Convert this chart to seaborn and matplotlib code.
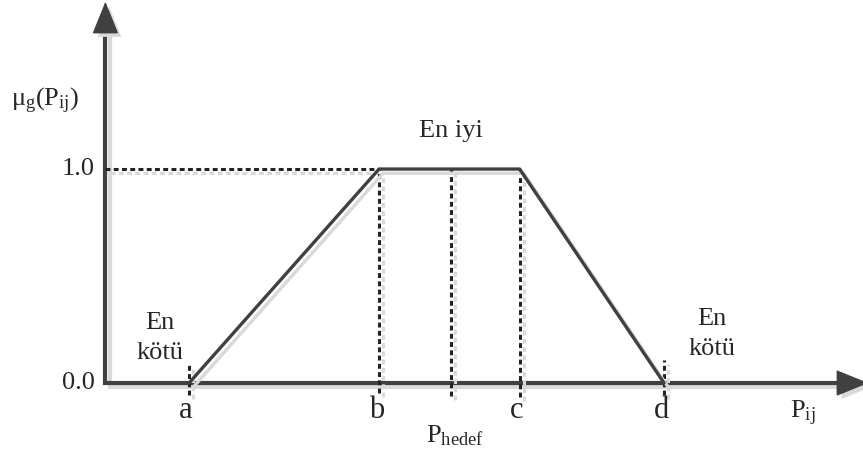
import matplotlib
matplotlib.use('Agg')
import matplotlib.pyplot as plt
import matplotlib.patheffects as pe
import seaborn as sns
import pandas as pd

# trapezoid membership function
pts = ['a', 'b', 'c', 'd']
x_pts = [1.0, 2.0, 2.74, 3.5]
mu_pts = [0.0, 1.0, 1.0, 0.0]
p_target = 2.38
y_ticks = [0.0, 1.0]
tick_text = ['0.0', '1.0']
x_origin = 0.56

df = pd.DataFrame({'P': x_pts, 'mu': mu_pts})

sns.set_theme(style='white')
plt.rcParams['font.family'] = ['Liberation Serif', 'DejaVu Serif']
plt.rcParams['mathtext.fontset'] = 'custom'
plt.rcParams['mathtext.rm'] = 'Liberation Serif'
plt.rcParams['mathtext.it'] = 'Liberation Serif:italic'

dark = '#404040'
shade = '#d9d9d9'
shadow = [pe.SimpleLineShadow(offset=(3, -3), shadow_color=shade, alpha=1), pe.Normal()]

fig = plt.figure(figsize=(8.63, 4.53), dpi=100)
ax = fig.add_axes([0, 0, 1, 1])
ax.set_xlim(0.00526, 4.547)
ax.set_ylim(-0.327, 1.79)
ax.axis('off')

# axis lines
ax.plot([x_origin, x_origin, 4.45], [1.70, 0, 0], color=dark, lw=3,
        solid_joinstyle='miter', path_effects=shadow, zorder=2)

# arrow heads
arr = dict(arrowstyle='-|>,head_length=2.1,head_width=0.85', lw=1, color=dark,
           mutation_scale=10, shrinkA=0, shrinkB=0,
           path_effects=[pe.SimplePatchShadow(offset=(3, -3), shadow_rgbFace=shade, alpha=1), pe.Normal()])
ax.annotate('', xy=(4.575, 0), xytext=(4.3, 0), arrowprops=arr, zorder=2, annotation_clip=False)
ax.annotate('', xy=(x_origin, 1.782), xytext=(x_origin, 1.5), arrowprops=arr, zorder=2, annotation_clip=False)

# dashed guide lines
dash_kw = dict(color='#222222', lw=2.2, linestyle=(0, (1.6, 1.1)), path_effects=shadow, zorder=2)
ax.plot([x_origin, x_pts[1]], [1.0, 1.0], **dash_kw)
ax.plot([x_pts[0], x_pts[0]], [-0.056, 0.089], **dash_kw)
ax.plot([x_pts[3], x_pts[3]], [-0.056, 0.107], **dash_kw)
ax.plot([x_pts[1], x_pts[1]], [-0.047, 1.0], **dash_kw)
ax.plot([p_target, p_target], [-0.06, 1.0], **dash_kw)
ax.plot([x_pts[2], x_pts[2]], [-0.065, 1.0], **dash_kw)

sns.lineplot(data=df, x='P', y='mu', ax=ax, color=dark, lw=2.4, sort=False,
             path_effects=shadow, zorder=3)
ax.axis('off')

fs = 19
for t, v in zip(tick_text, y_ticks):
    ax.text(0.505, v, t, ha='right', va='center', fontsize=fs)
for lab, xv in zip(pts, x_pts):
    ax.text(xv - 0.015, -0.128, lab, ha='center', va='center', fontsize=22)

ax.text(0.242, 1.32, r'μ$_\mathrm{g}$(P$_\mathrm{ij}$)', ha='center', va='center', fontsize=fs)
ax.text(4.23, -0.14, r'P$_\mathrm{ij}$', ha='center', va='center', fontsize=fs)
ax.text(2.40, -0.245, r'P$_\mathrm{hedef}$', ha='center', va='center', fontsize=fs)
ax.text(0.847, 0.21, 'En\nkötü', ha='center', va='center', fontsize=fs, linespacing=1.5)
ax.text(3.75, 0.23, 'En\nkötü', ha='center', va='center', fontsize=fs, linespacing=1.5)
ax.text(2.38, 1.18, 'En iyi', ha='center', va='center', fontsize=fs)

fig.savefig('out.png', dpi=100)
